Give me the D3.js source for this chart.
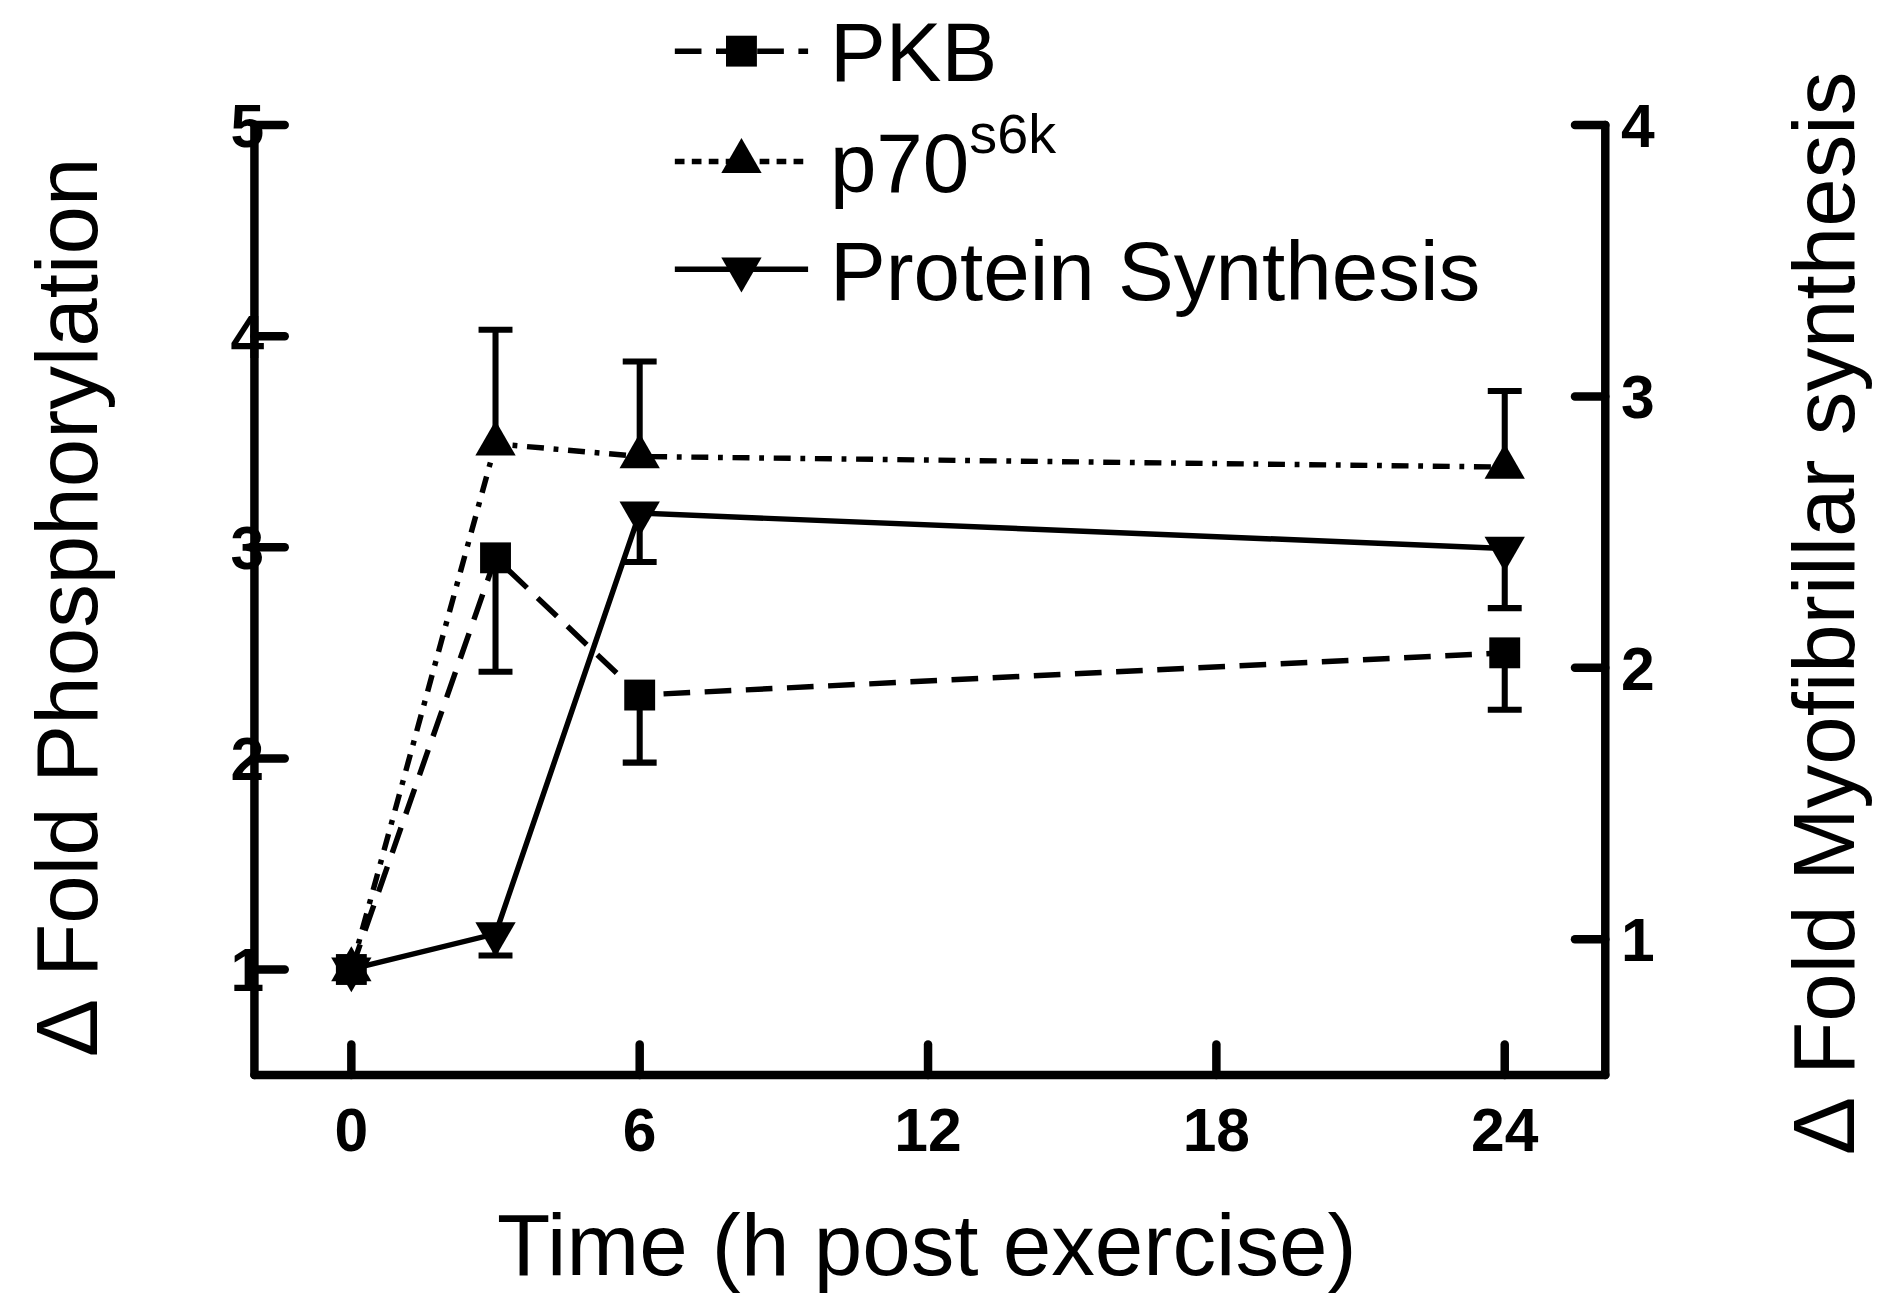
<!DOCTYPE html>
<html><head><meta charset="utf-8">
<script src="https://cdn.jsdelivr.net/npm/d3@7"></script>
<style>body{margin:0;background:#fff}svg{display:block}</style></head>
<body><svg id="c" width="1890" height="1309" viewBox="0 0 1560 1080"></svg>
<script>
const hours = [0, 3, 6, 24];
const pkb = [1, 2.95, 2.3, 2.5];
const pkbErrLow = [null, 2.41, 1.98, 2.23];
const p70 = [1, 3.49, 3.43, 3.38];
const p70ErrHigh = [null, 4.03, 3.88, 3.74];
const protein = [0.89, 1.02, 2.57, 2.44];
const proteinErrLow = [null, 0.94, 2.39, 2.22];
const xTicks = [0, 6, 12, 18, 24];
const yLeftTicks = [1, 2, 3, 4, 5];
const yRightTicks = [1, 2, 3, 4];

const svg = d3.select("#c");
const font = "'Liberation Sans', Arial, sans-serif";
const L = 210, R = 1325, B = 887;
const x = d3.scaleLinear().domain([0, 24]).range([290, 1242]);
const yL = d3.scaleLinear().domain([1, 5]).range([800, 103]);
const yR = d3.scaleLinear().domain([1, 4]).range([775, 103]);

const ax = svg.append("g").attr("stroke", "#000").attr("stroke-width", 7).attr("stroke-linecap","round");
ax.append("line").attr("x1", L).attr("x2", L).attr("y1", yL(5)).attr("y2", B);
ax.append("line").attr("x1", R).attr("x2", R).attr("y1", yR(4)).attr("y2", B);
ax.append("line").attr("x1", L).attr("x2", R).attr("y1", B).attr("y2", B);
yLeftTicks.forEach(t => ax.append("line").attr("x1", L).attr("x2", L + 25).attr("y1", yL(t)).attr("y2", yL(t)));
yRightTicks.forEach(t => ax.append("line").attr("x1", R - 25).attr("x2", R).attr("y1", yR(t)).attr("y2", yR(t)));
xTicks.forEach(t => ax.append("line").attr("x1", x(t)).attr("x2", x(t)).attr("y1", B - 25).attr("y2", B));

const tl = svg.append("g").attr("font-family", font).attr("font-weight", "bold").attr("font-size", 50).attr("fill", "#000");
yLeftTicks.forEach(t => tl.append("text").attr("x", 218).attr("y", yL(t) + 18).attr("text-anchor", "end").text(t));
yRightTicks.forEach(t => tl.append("text").attr("x", 1338).attr("y", yR(t) + 18).text(t));
xTicks.forEach(t => tl.append("text").attr("x", x(t)).attr("y", 950).attr("text-anchor", "middle").text(t));

const tt = svg.append("g").attr("font-family", font).attr("font-size", 72).attr("fill", "#000");
tt.append("text").attr("transform", "translate(80,500) rotate(-90)").attr("text-anchor", "middle").text("∆ Fold Phosphorylation");
tt.append("text").attr("transform", "translate(1530,505) rotate(-90)").attr("text-anchor", "middle").text("∆ Fold Myofibrillar synthesis");
tt.append("text").attr("x", 765).attr("y", 1052).attr("text-anchor", "middle").text("Time (h post exercise)");

function errs(vals, ends, y) {
  const g = svg.append("g").attr("stroke", "#000").attr("stroke-width", 5);
  hours.forEach((h, i) => {
    if (ends[i] == null) return;
    g.append("line").attr("x1", x(h)).attr("x2", x(h)).attr("y1", y(vals[i])).attr("y2", y(ends[i]));
    g.append("line").attr("x1", x(h) - 14).attr("x2", x(h) + 14).attr("y1", y(ends[i])).attr("y2", y(ends[i]));
  });
}
errs(pkb, pkbErrLow, yL);
errs(p70, p70ErrHigh, yL);
errs(protein, proteinErrLow, yR);

function series(vals, y, dash) {
  svg.append("path").datum(vals).attr("fill", "none").attr("stroke", "#000").attr("stroke-width", 4.5)
    .attr("stroke-dasharray", dash)
    .attr("d", d3.line().x((d, i) => x(hours[i])).y(d => y(d)));
}
series(p70, yL, "14,8,4,8");
series(pkb, yL, "22,12");
series(protein, yR, null);

const sq = d3.symbol().type(d3.symbolSquare).size(650);
const tri = d3.symbol().type(d3.symbolTriangle).size(480);
function marks(vals, y, sym, rot) {
  hours.forEach((h, i) => svg.append("path").attr("d", sym()).attr("fill", "#000")
    .attr("transform", `translate(${x(h)},${y(vals[i])}) rotate(${rot})`));
}
marks(p70, yL, tri, 0);
marks(protein, yR, tri, 180);
marks(pkb, yL, sq, 0);

const leg = [
  {label: "PKB", y: 42, dash: "22,12", sym: sq, rot: 0},
  {label: "p70", sup: "s6k", y: 133, dash: "8,6", sym: tri, rot: 0},
  {label: "Protein Synthesis", y: 222, dash: null, sym: tri, rot: 180}
];
leg.forEach(l => {
  svg.append("line").attr("x1", 557).attr("x2", 667).attr("y1", l.y).attr("y2", l.y)
    .attr("stroke", "#000").attr("stroke-width", 4.5).attr("stroke-dasharray", l.dash);
  svg.append("path").attr("d", l.sym()).attr("fill", "#000").attr("transform", `translate(612,${l.y}) rotate(${l.rot})`);
  const t = svg.append("text").attr("x", 685).attr("y", l.y + 25).attr("font-family", font).attr("font-size", 69).text(l.label);
  if (l.sup) t.append("tspan").attr("dy", -32).attr("font-size", 46).text(l.sup);
});
</script></body></html>
